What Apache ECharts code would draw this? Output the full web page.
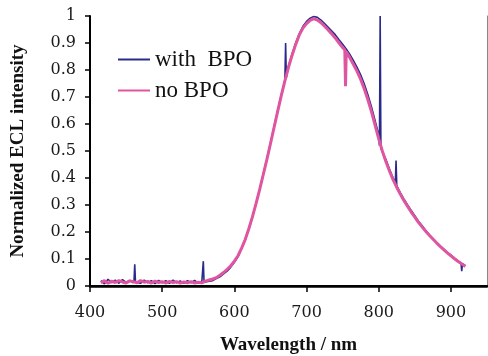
<!DOCTYPE html>
<html>
<head>
<meta charset="utf-8">
<script src="https://cdn.jsdelivr.net/npm/echarts@6/dist/echarts.min.js"></script>
<style>html,body{margin:0;padding:0;background:#fff}#c{width:488px;height:356px}</style>
</head>
<body>
<div id="c"></div>
<script>
var xTicks = [400, 500, 600, 700, 800, 900];
var yTicks = [0, 0.1, 0.2, 0.3, 0.4, 0.5, 0.6, 0.7, 0.8, 0.9, 1];

var wavelengthWithBPO = [415,420,425,430,435,440,445,450,455,460,461,462,463,465,470,475,480,485,490,495,500,505,510,515,520,525,530,535,540,545,550,555,556,557,558,560,565,570,575,580,585,590,595,600,605,610,615,620,625,630,635,640,645,650,655,660,665,670,671,672,675,680,685,690,695,700,705,710,715,720,725,730,735,740,745,750,755,760,765,770,775,780,785,790,795,800,801,802,803,805,810,815,820,823,824,825,830,835,840,845,850,855,860,865,870,875,880,885,890,895,900,905,910,914,915,916,920];
var intensityWithBPO = [0.02,0.008,0.025,0.012,0.022,0.01,0.024,0.013,0.021,0.012,0.02,0.08,0.015,0.02,0.01,0.022,0.012,0.02,0.009,0.021,0.012,0.02,0.01,0.022,0.012,0.019,0.01,0.02,0.012,0.021,0.01,0.018,0.015,0.092,0.014,0.012,0.018,0.02,0.028,0.034,0.045,0.055,0.07,0.088,0.108,0.138,0.17,0.21,0.255,0.305,0.358,0.415,0.47,0.53,0.59,0.65,0.708,0.762,0.9,0.772,0.815,0.86,0.9,0.935,0.962,0.98,0.992,0.998,0.995,0.985,0.972,0.958,0.944,0.93,0.912,0.895,0.878,0.858,0.835,0.81,0.782,0.748,0.708,0.663,0.612,0.56,0.52,1.0,0.51,0.505,0.468,0.432,0.4,0.38,0.465,0.372,0.345,0.322,0.3,0.28,0.26,0.24,0.224,0.206,0.19,0.176,0.162,0.149,0.137,0.125,0.114,0.103,0.093,0.085,0.055,0.083,0.075];

var wavelengthNoBPO = [415,420,425,430,435,440,445,450,455,460,465,470,475,480,485,490,495,500,505,510,515,520,525,530,535,540,545,550,555,560,565,570,575,580,585,590,595,600,605,610,615,620,625,630,635,640,645,650,655,660,665,670,675,680,685,690,695,700,705,710,715,720,725,730,735,740,745,750,753,754,755,760,765,770,775,780,785,790,795,800,805,810,815,820,825,830,835,840,845,850,855,860,865,870,875,880,885,890,895,900,905,910,915,920];
var intensityNoBPO = [0.012,0.02,0.01,0.018,0.013,0.02,0.015,0.011,0.019,0.016,0.012,0.02,0.014,0.017,0.011,0.018,0.013,0.016,0.011,0.017,0.013,0.016,0.011,0.015,0.012,0.016,0.011,0.014,0.012,0.018,0.022,0.026,0.031,0.04,0.05,0.062,0.075,0.092,0.112,0.14,0.172,0.212,0.256,0.305,0.357,0.412,0.468,0.527,0.587,0.647,0.705,0.76,0.81,0.855,0.895,0.93,0.955,0.972,0.984,0.99,0.985,0.975,0.962,0.948,0.933,0.918,0.9,0.883,0.875,0.74,0.868,0.845,0.82,0.795,0.765,0.73,0.69,0.645,0.595,0.545,0.5,0.46,0.425,0.393,0.365,0.34,0.316,0.295,0.274,0.255,0.236,0.219,0.203,0.188,0.174,0.16,0.147,0.135,0.123,0.112,0.101,0.091,0.082,0.072];

function pairs(xs, ys) { return xs.map(function (x, i) { return [x, ys[i]]; }); }

var chart = echarts.init(document.getElementById('c'), null, {renderer: 'canvas'});
var tickFont = {fontFamily: 'DejaVu Serif', fontSize: 16, color: '#1a1a1a'};
chart.setOption({
  animation: false,
  backgroundColor: '#fff',
  grid: {left: 90, right: 1, top: 16, bottom: 70, containLabel: false, outerBoundsMode: 'none'},
  legend: {
    left: 113, top: 43, orient: 'vertical', itemWidth: 32, itemHeight: 2, itemGap: 8,
    textStyle: {fontFamily: 'Liberation Serif', fontSize: 23, color: '#111'},
    data: [
      {name: 'with  BPO', icon: 'rect'},
      {name: 'no BPO', icon: 'rect'}
    ]
  },
  xAxis: [{
    type: 'value', min: 400, max: 950, interval: 100,
    name: 'Wavelength / nm', nameLocation: 'middle', nameGap: 50,
    nameTextStyle: {fontFamily: 'Liberation Serif', fontSize: 19, fontWeight: 'bold', color: '#111'},
    axisLine: {lineStyle: {color: '#000', width: 2}},
    axisTick: {show: true, length: 6, lineStyle: {color: '#000', width: 1.5}},
    axisLabel: Object.assign({margin: 19, showMaxLabel: false}, tickFont),
    splitLine: {show: false}
  }, {
    type: 'value', position: 'top', min: 400, max: 950,
    axisLine: {show: true, lineStyle: {color: '#000', width: 2.5}},
    axisTick: {show: false}, axisLabel: {show: false}, splitLine: {show: false}
  }],
  yAxis: [{
    type: 'value', min: 0, max: 1, interval: 0.1,
    name: 'Normalized ECL intensity', nameLocation: 'middle', nameGap: 62,
    nameTextStyle: {fontFamily: 'Liberation Serif', fontSize: 19, fontWeight: 'bold', color: '#111'},
    axisLine: {show: true, lineStyle: {color: '#000', width: 2}},
    axisTick: {show: true, length: 5, lineStyle: {color: '#000', width: 1.5}},
    axisLabel: Object.assign({margin: 14, formatter: function (v) { return String(Math.round(v * 10) / 10); }}, tickFont),
    splitLine: {show: false}
  }, {
    type: 'value', position: 'right', min: 0, max: 1,
    axisLine: {show: true, lineStyle: {color: '#888', width: 1}},
    axisTick: {show: false}, axisLabel: {show: false}, splitLine: {show: false}
  }],
  series: [{
    name: 'with  BPO', type: 'line', showSymbol: false, symbol: 'none',
    data: pairs(wavelengthWithBPO, intensityWithBPO),
    itemStyle: {color: '#2a2a8c'},
    lineStyle: {color: '#2a2a8c', width: 1.6}
  }, {
    name: 'no BPO', type: 'line', showSymbol: false, symbol: 'none',
    data: pairs(wavelengthNoBPO, intensityNoBPO),
    itemStyle: {color: '#e0559f'},
    lineStyle: {color: '#e0559f', width: 3}
  }]
});
</script>
</body>
</html>
